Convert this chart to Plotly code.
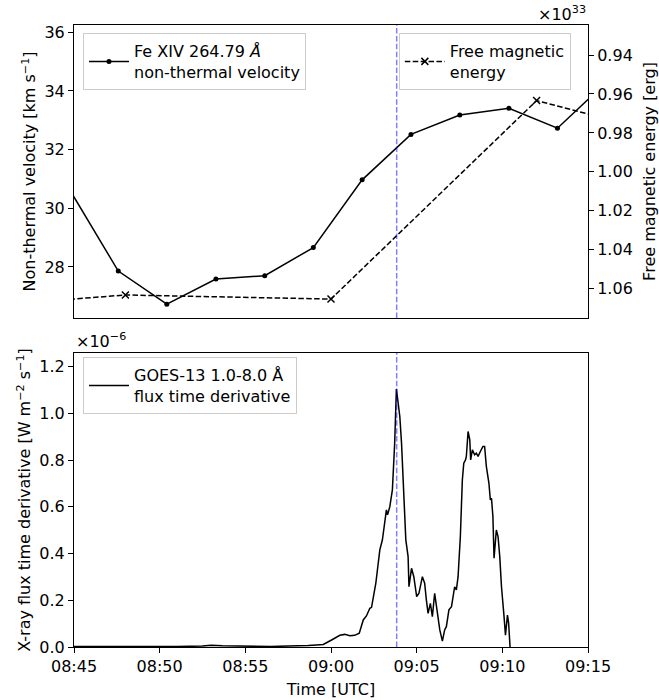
import plotly.graph_objects as go

# ---------------- data ----------------
# EIS Fe XIV 264.79 non-thermal velocity [km/s]
vel_time = ["2013-01-01 08:44:45", "2013-01-01 08:47:35", "2013-01-01 08:50:25",
            "2013-01-01 08:53:17", "2013-01-01 08:56:08", "2013-01-01 08:58:58",
            "2013-01-01 09:01:49", "2013-01-01 09:04:40", "2013-01-01 09:07:31",
            "2013-01-01 09:10:23", "2013-01-01 09:13:13", "2013-01-01 09:16:02"]
vel_vals = [30.63, 27.86, 26.73, 27.59, 27.70, 28.66, 30.97, 32.52, 33.18, 33.41, 32.73, 34.28]

# Free magnetic energy [1e33 erg]
fme_time = ["2013-01-01 08:36:00", "2013-01-01 08:48:00", "2013-01-01 09:00:00",
            "2013-01-01 09:12:00", "2013-01-01 09:24:00"]
fme_vals = [1.0714, 1.0632, 1.0653, 0.9634, 0.9909]

# GOES-13 1.0-8.0 A flux time derivative [1e-6 W m^-2 s^-1]
goes_time = ["08:45:00", "08:47:00", "08:49:00", "08:51:00", "08:52:30", "08:53:00",
             "08:53:40", "08:55:00", "08:56:30", "08:57:30", "08:58:11", "08:58:40",
             "08:59:09", "08:59:33", "09:00:02", "09:00:19", "09:00:31", "09:00:48",
             "09:01:06", "09:01:23", "09:01:39", "09:01:53", "09:02:04", "09:02:16",
             "09:02:22", "09:02:37", "09:02:51", "09:03:00", "09:03:08", "09:03:14",
             "09:03:18", "09:03:26", "09:03:35", "09:03:43", "09:03:49", "09:03:55",
             "09:04:01", "09:04:07", "09:04:15", "09:04:22", "09:04:30", "09:04:33",
             "09:04:42", "09:04:50", "09:05:00", "09:05:08", "09:05:20", "09:05:28",
             "09:05:34", "09:05:40", "09:05:48", "09:05:55", "09:06:03", "09:06:11",
             "09:06:21", "09:06:30", "09:06:38", "09:06:44", "09:06:53", "09:07:02",
             "09:07:07", "09:07:13", "09:07:19", "09:07:25", "09:07:33", "09:07:40",
             "09:07:45", "09:07:51", "09:07:54", "09:08:00", "09:08:06", "09:08:09",
             "09:08:15", "09:08:23", "09:08:29", "09:08:35", "09:08:43", "09:08:52",
             "09:08:58", "09:09:04", "09:09:13", "09:09:18", "09:09:22", "09:09:27",
             "09:09:31", "09:09:39", "09:09:45", "09:09:51", "09:09:57", "09:10:02",
             "09:10:06", "09:10:11", "09:10:18", "09:10:22", "09:10:30"]
goes_vals = [0.002, 0.001, 0.002, 0.002, 0.004, 0.007,
             0.005, 0.003, 0.002, 0.004, 0.004, 0.006,
             0.009, 0.011, 0.030, 0.044, 0.050, 0.054,
             0.048, 0.050, 0.059, 0.116, 0.133, 0.166,
             0.170, 0.273, 0.416, 0.459, 0.544, 0.587,
             0.566, 0.601, 0.673, 0.873, 1.105, 1.030,
             0.987, 0.873, 0.616, 0.459, 0.387, 0.258,
             0.337, 0.301, 0.216, 0.230, 0.301, 0.273,
             0.201, 0.144, 0.187, 0.130, 0.230, 0.159,
             0.073, 0.025, 0.073, 0.087, 0.159, 0.173,
             0.216, 0.258, 0.244, 0.301, 0.473, 0.716,
             0.787, 0.801, 0.816, 0.923, 0.887, 0.801,
             0.844, 0.823, 0.830, 0.816, 0.837, 0.859,
             0.859, 0.773, 0.702, 0.630, 0.637, 0.559,
             0.380, 0.501, 0.473, 0.387, 0.258, 0.201,
             0.130, 0.051, 0.137, 0.102, -0.060]
goes_time = ["2013-01-01 " + t for t in goes_time]

flare_time = "2013-01-01 09:03:50"
x_range = ["2013-01-01 08:45:00", "2013-01-01 09:15:00"]
x_tickvals = ["2013-01-01 08:45", "2013-01-01 08:50", "2013-01-01 08:55", "2013-01-01 09:00",
              "2013-01-01 09:05", "2013-01-01 09:10", "2013-01-01 09:15"]
x_ticktext = ["08:45", "08:50", "08:55", "09:00", "09:05", "09:10", "09:15"]
vel_ticks = [28, 30, 32, 34, 36]
fme_ticks = [0.94, 0.96, 0.98, 1.00, 1.02, 1.04, 1.06]
goes_ticks = [0.0, 0.2, 0.4, 0.6, 0.8, 1.0, 1.2]

# ---------------- figure ----------------
FONT = "DejaVu Sans"
FS = 16
DASH = "5.5px,2.4px"

fig = go.Figure()
fig.add_trace(go.Scatter(
    x=vel_time, y=vel_vals, mode="lines+markers", xaxis="x", yaxis="y",
    name="Fe XIV 264.79 <i>Å</i><br>non-thermal velocity",
    line=dict(color="black", width=1.5), marker=dict(color="black", size=5),
    legend="legend"))
fig.add_trace(go.Scatter(
    x=fme_time, y=fme_vals, mode="lines+markers", xaxis="x", yaxis="y2",
    name="Free magnetic<br>energy",
    line=dict(color="black", width=1.5, dash=DASH),
    marker=dict(symbol="x-thin", size=7, color="black", line=dict(color="black", width=1.5)),
    legend="legend2"))
fig.add_trace(go.Scatter(
    x=goes_time, y=goes_vals, mode="lines", xaxis="x2", yaxis="y3",
    name="GOES-13 1.0-8.0 Å<br>flux time derivative",
    line=dict(color="black", width=1.5), legend="legend3"))

axis_common = dict(showgrid=False, zeroline=False, linecolor="black", linewidth=1,
                   mirror=True, ticks="outside", ticklen=5, tickwidth=1, tickcolor="black",
                   tickfont=dict(family=FONT, size=FS, color="black"), showline=True,
                   automargin=False)

top_dom = [0.529, 1.0]
bot_dom = [0.0, 0.4727]

legend_common = dict(bgcolor="rgba(255,255,255,0.8)", bordercolor="#cccccc", borderwidth=1,
                     font=dict(family=FONT, size=FS, color="black"),
                     xanchor="left", yanchor="top", itemwidth=40, tracegroupgap=0)

fig.update_layout(
    width=659, height=700,
    margin=dict(l=74, r=71, t=25, b=53, autoexpand=False),
    paper_bgcolor="white", plot_bgcolor="white",
    font=dict(family=FONT, size=FS, color="black"),
    showlegend=True,
    xaxis=dict(axis_common, domain=[0, 1], anchor="y", range=x_range, type="date",
               showticklabels=False, ticks="", tickvals=x_tickvals, matches="x2"),
    yaxis=dict(axis_common, domain=top_dom, anchor="x", range=[26.26, 36.25],
               tickvals=vel_ticks,
               title=dict(text="Non-thermal velocity [km s<sup>−1</sup>]",
                          font=dict(family=FONT, size=FS), standoff=4)),
    yaxis2=dict(axis_common, overlaying="y", side="right", anchor="x",
                range=[1.075, 0.9246], tickvals=fme_ticks, tickformat=".2f", mirror=False,
                title=dict(text="Free magnetic energy [erg]",
                           font=dict(family=FONT, size=FS), standoff=11)),
    xaxis2=dict(axis_common, domain=[0, 1], anchor="y3", range=x_range, type="date",
                tickvals=x_tickvals, ticktext=x_ticktext,
                title=dict(text="Time [UTC]", font=dict(family=FONT, size=FS), standoff=8)),
    yaxis3=dict(axis_common, domain=bot_dom, anchor="x2", range=[0, 1.259],
                tickvals=goes_ticks, tickformat=".1f",
                title=dict(text="X-ray flux time derivative [W m<sup>−2</sup> s<sup>−1</sup>]",
                           font=dict(family=FONT, size=FS), standoff=4)),
    legend=dict(legend_common, x=0.0175, y=0.987),
    legend2=dict(legend_common, x=0.632, y=0.987),
    legend3=dict(legend_common, x=0.0175, y=0.466),
)

for xr in ["x", "x2"]:
    yr = "y domain" if xr == "x" else "y3 domain"
    fig.add_shape(type="line", xref=xr, yref=yr, x0=flare_time, x1=flare_time, y0=0, y1=1,
                  line=dict(color="rgba(0,0,255,0.5)", width=1.5, dash=DASH), layer="above")

fig.add_annotation(text="×10<sup>33</sup>", xref="paper", yref="paper", x=1.0, y=1.0,
                   xanchor="right", yanchor="bottom", yshift=-1, showarrow=False,
                   font=dict(family=FONT, size=FS, color="black"))
fig.add_annotation(text="×10<sup>−6</sup>", xref="paper", yref="paper", x=0.0, y=bot_dom[1],
                   xanchor="left", yanchor="bottom", yshift=0, showarrow=False,
                   font=dict(family=FONT, size=FS, color="black"))

fig.write_html("out.html")
